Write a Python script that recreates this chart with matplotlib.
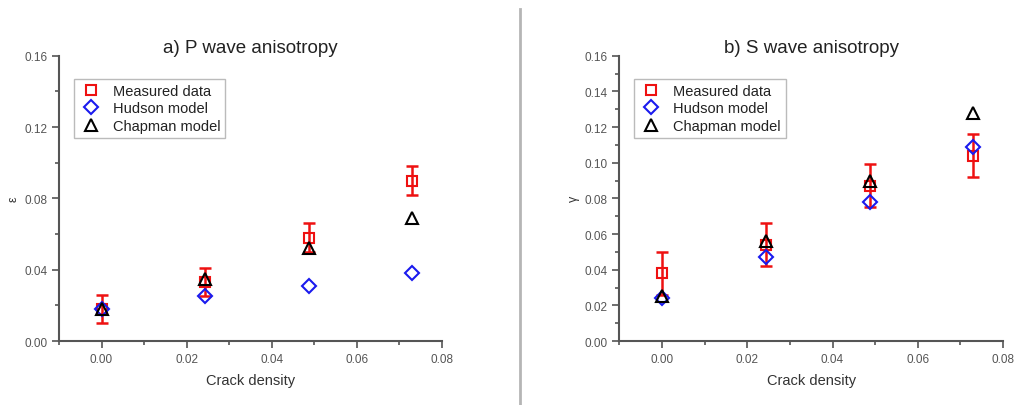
import matplotlib.pyplot as plt
from matplotlib.lines import Line2D
from matplotlib.ticker import MultipleLocator

plt.rcParams['font.family'] = ['Liberation Sans', 'DejaVu Sans']

crack = [0.0, 0.0244, 0.0488, 0.073]

# P wave anisotropy (epsilon)
p_measured = [0.018, 0.033, 0.058, 0.090]
p_err = [0.008, 0.008, 0.008, 0.008]
p_hudson = [0.018, 0.025, 0.031, 0.038]
p_chapman = [0.018, 0.035, 0.052, 0.069]

# S wave anisotropy (gamma)
s_measured = [0.038, 0.054, 0.087, 0.104]
s_err = [0.012, 0.012, 0.012, 0.012]
s_hudson = [0.024, 0.047, 0.078, 0.109]
s_chapman = [0.025, 0.056, 0.090, 0.128]

gray = "#555555"


def panel(ax, title, ylabel, meas, err, hud, chap, ystep):
    ax.errorbar(crack, meas, yerr=err, fmt="none", ecolor="#ee1111",
                elinewidth=1.8, capsize=4.5, capthick=1.8, zorder=2)
    ax.plot(crack, meas, "s", ms=7, mfc="none", mec="#ee1111", mew=1.5, zorder=3)
    ax.plot(crack, hud, "D", ms=7.5, mfc="none", mec="#1a1aee", mew=1.5, zorder=4)
    ax.plot(crack, chap, "^", ms=8.5, mfc="none", mec="black", mew=1.5, zorder=5)

    ax.set_xlim(-0.01, 0.08)
    ax.set_ylim(0, 0.16)
    ax.xaxis.set_major_locator(MultipleLocator(0.02))
    ax.xaxis.set_minor_locator(MultipleLocator(0.01))
    ax.yaxis.set_major_locator(MultipleLocator(ystep))
    ax.yaxis.set_minor_locator(MultipleLocator(ystep / 2))
    ax.xaxis.set_major_formatter(plt.FormatStrFormatter("%.2f"))
    ax.yaxis.set_major_formatter(plt.FormatStrFormatter("%.2f"))
    for s in ["top", "right"]:
        ax.spines[s].set_visible(False)
    for s in ["left", "bottom"]:
        ax.spines[s].set_color(gray)
        ax.spines[s].set_linewidth(1.5)
    ax.tick_params(which="both", direction="out", colors=gray, labelsize=8.5,
                   width=1.2)
    ax.tick_params(which="major", length=5)
    ax.tick_params(which="minor", length=3)
    ax.set_title(title, fontsize=13.5, color="#222222", pad=2)
    ax.set_xlabel("Crack density", fontsize=10.5, color="#333333", labelpad=6)
    ax.set_ylabel(ylabel, fontsize=9, color="#333333", labelpad=3)

    handles = [
        Line2D([], [], ls="none", marker="s", ms=6.5, mfc="none", mec="#ee1111", mew=1.5),
        Line2D([], [], ls="none", marker="D", ms=7, mfc="none", mec="#1a1aee", mew=1.5),
        Line2D([], [], ls="none", marker="^", ms=8, mfc="none", mec="black", mew=1.5),
    ]
    leg = ax.legend(handles, ["Measured data", "Hudson model", "Chapman model"],
                    loc="upper left", bbox_to_anchor=(0.02, 0.945), fontsize=10.5,
                    fancybox=False, edgecolor="#aaaaaa", handletextpad=0.7,
                    labelspacing=0.25, borderpad=0.35, handlelength=1.6)
    for t in leg.get_texts():
        t.set_color("#222222")


fig = plt.figure(figsize=(10.17, 4.06), dpi=100)
ax1 = fig.add_axes([0.058, 0.1576, 0.3766, 0.7027])
ax2 = fig.add_axes([0.609, 0.1576, 0.3773, 0.7027])

panel(ax1, "a) P wave anisotropy", "ε", p_measured, p_err, p_hudson, p_chapman, 0.04)
panel(ax2, "b) S wave anisotropy", "γ", s_measured, s_err, s_hudson, s_chapman, 0.02)

fig.add_artist(Line2D([520 / 1017, 520 / 1017], [0, 1 - 10 / 406],
                      color="#b5b5b5", lw=2, transform=fig.transFigure))

fig.savefig("out.png", dpi=100)
